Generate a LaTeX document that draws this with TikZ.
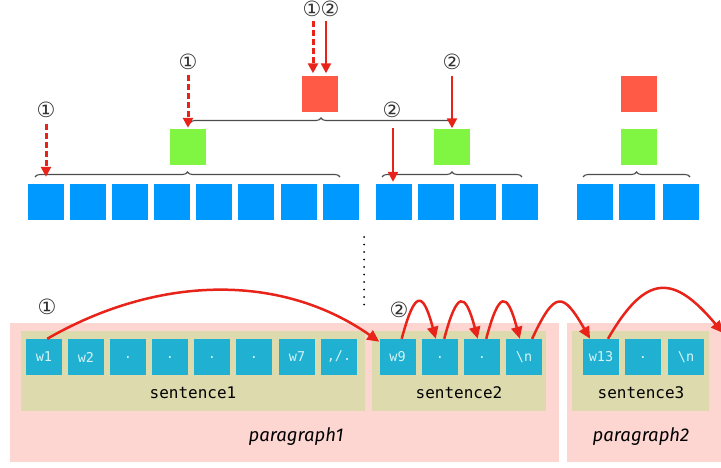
\documentclass[tikz,border=0pt]{standalone}
\usepackage{fontspec}
\setmonofont{DejaVu Sans Mono}
\newfontfamily\circfont{DejaVu Sans}
\newfontfamily\parafont{Fira Sans}
\usetikzlibrary{arrows.meta,decorations.pathreplacing}
\definecolor{tokblue}{RGB}{0,153,255}
\definecolor{sentgreen}{RGB}{128,245,66}
\definecolor{parared}{RGB}{255,90,70}
\definecolor{arrred}{RGB}{232,35,25}
\definecolor{parapink}{RGB}{253,214,209}
\definecolor{sentkhaki}{RGB}{221,219,173}
\definecolor{wordteal}{RGB}{32,176,210}
\definecolor{wordtext}{RGB}{214,243,245}
\tikzset{
	tok/.style={fill=tokblue,minimum size=36pt,inner sep=0pt},
	sentsq/.style={fill=sentgreen,minimum size=36pt,inner sep=0pt},
	parasq/.style={fill=parared,minimum size=36pt,inner sep=0pt},
	wordbox/.style={fill=wordteal,minimum size=36pt,inner sep=0pt,text=wordtext,font=\ttfamily\fontsize{13.5}{15}\selectfont},
	sentbox/.style={fill=sentkhaki,inner sep=0pt,minimum height=80pt},
	parabox/.style={fill=parapink,inner sep=0pt,minimum height=139pt},
	sentlabel/.style={font=\ttfamily\fontsize{16}{18}\selectfont},
	paralabel/.style={font=\parafont\itshape\fontsize{18.5}{21}\selectfont},
	circ/.style={font=\circfont\fontsize{21}{23}\selectfont,text=black!80,inner sep=0pt},
	brc/.style={decorate,decoration={brace,amplitude=5pt},draw=black!70,line width=1.1pt},
	dasharr/.style={draw=arrred,line width=3pt,dash pattern=on 6pt off 3pt,-{Triangle[length=10pt,width=10pt]}},
	solarr/.style={draw=arrred,line width=2.2pt,-{Triangle[length=10pt,width=10pt]}},
	curarr/.style={draw=arrred,line width=2.5pt,-{Triangle[length=12pt,width=11pt]}},
}
\begin{document}
\begin{tikzpicture}[x=1pt,y=1pt]
	\useasboundingbox (0,0) rectangle (721,467);
	\node[tok] (b1) at (46,265) {};
	\node[tok] (b2) at (88,265) {};
	\node[tok] (b3) at (130,265) {};
	\node[tok] (b4) at (172,265) {};
	\node[tok] (b5) at (214,265) {};
	\node[tok] (b6) at (256,265) {};
	\node[tok] (b7) at (299,265) {};
	\node[tok] (b8) at (341,265) {};
	\node[tok] (b9) at (393.5,265) {};
	\node[tok] (b10) at (436,265) {};
	\node[tok] (b11) at (478,265) {};
	\node[tok] (b12) at (520,265) {};
	\node[tok] (b13) at (595,265) {};
	\node[tok] (b14) at (637,265) {};
	\node[tok] (b15) at (681,265) {};
	\node[sentsq] (g1) at (188,319.5) {};
	\node[sentsq] (g2) at (452,319.5) {};
	\node[sentsq] (g3) at (639,319.5) {};
	\node[parasq] (r1) at (320,372.5) {};
	\node[parasq] (r2) at (639,372.5) {};
	\draw[brc] (35,290) -- (340,290);
	\draw[brc] (382,290) -- (522,290);
	\draw[brc] (583,290) -- (690,290);
	\draw[brc] (190,344) -- (452,344);
	\node[circ] (n1) at (46,357) {①};
	\node[circ] (n2) at (188,405) {①};
	\node[circ] (n3) at (312,458) {①};
	\node[circ] (n4) at (330,458) {②};
	\node[circ] (n5) at (452,405) {②};
	\node[circ] (n6) at (392,357) {②};
	\coordinate (a1) at (46,343);
	\coordinate (a2) at (188,392);
	\coordinate (a3) at (313,446);
	\coordinate (a4) at (326,446);
	\coordinate (a5) at (452,391);
	\coordinate (a6) at (393,339);
	\draw[dasharr,shorten >=7pt] (a1) -- (a1 |- b1.north);
	\draw[dasharr,shorten >=1.5pt] (a2) -- (a2 |- g1.north);
	\draw[dasharr,shorten >=3pt] (a3) -- (a3 |- r1.north);
	\draw[solarr,shorten >=3pt] (a4) -- (a4 |- r1.north);
	\draw[solarr,shorten >=1pt] (a5) -- (a5 |- g2.north);
	\draw[solarr,shorten >=2pt] (a6) -- (a6 |- b9.north);
	\coordinate (dtop) at (364,230);
	\coordinate (dbot) at (364,155);
	\draw[line width=2pt,line cap=round,dash pattern=on 0pt off 7.5pt] (dtop) -- (dbot);
	\node[parabox,minimum width=549pt] (p1) at (284.5,74.5) {};
	\node[parabox,minimum width=174pt] (p2) at (654,74.5) {};
	\node[sentbox,minimum width=344pt] (s1) at (193,96) {};
	\node[sentbox,minimum width=174pt] (s2) at (459,96) {};
	\node[sentbox,minimum width=137pt] (s3) at (640.5,96) {};
	\node[wordbox] (w1) at (44,110) {w1};
	\node[wordbox] (w2) at (86,110) {w2};
	\node[wordbox] (w3) at (128,110) {.};
	\node[wordbox] (w4) at (170,110) {.};
	\node[wordbox] (w5) at (212,110) {.};
	\node[wordbox] (w6) at (254,110) {.};
	\node[wordbox] (w7) at (297,110) {w7};
	\node[wordbox] (w8) at (339,110) {,/.};
	\node[wordbox] (w9) at (397.5,110) {w9};
	\node[wordbox] (w10) at (440,110) {.};
	\node[wordbox] (w11) at (482,110) {.};
	\node[wordbox] (w12) at (524,110) {\textbackslash n};
	\node[wordbox] (w13) at (601,110) {w13};
	\node[wordbox] (w14) at (643,110) {.};
	\node[wordbox] (w15) at (686,110) {\textbackslash n};
	\node[sentlabel] (t1) at (193,74) {sentence1};
	\node[sentlabel] (t2) at (459,74) {sentence2};
	\node[sentlabel] (t3) at (641,74) {sentence3};
	\node[paralabel] (q1) at (296,30) {paragraph1};
	\node[paralabel] (q2) at (641,30) {paragraph2};
	\node[circ] (c1) at (47,160) {①};
	\node[circ] (c2) at (399,157) {②};
	\coordinate (nx) at (723,134);
	\draw[curarr] (w1.80) to[out=30,in=145,looseness=0.95] (w9.140);
	\draw[curarr] (w9.77) to[out=75,in=105,looseness=3.8] (w10.103);
	\draw[curarr] (w10.77) to[out=75,in=105,looseness=3.8] (w11.103);
	\draw[curarr] (w11.77) to[out=75,in=105,looseness=3.8] (w12.103);
	\draw[curarr] (w12.66) to[out=65,in=120,looseness=2.4] (w13.121);
	\draw[curarr] (w13.69) to[out=60,in=130,looseness=1.7] (nx);
\end{tikzpicture}
\end{document}
